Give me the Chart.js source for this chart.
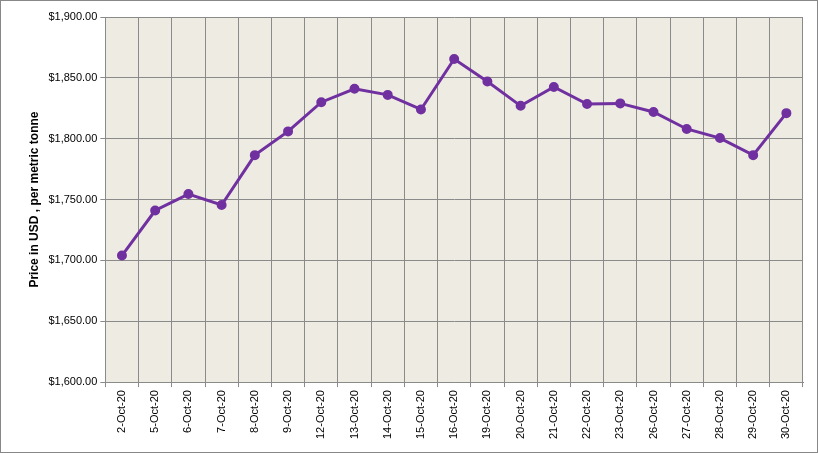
<!DOCTYPE html>
<html><head><script src="https://cdn.jsdelivr.net/npm/chart.js"></script>
<style>html,body{margin:0;padding:0;background:#fff}#w{width:816px;height:451px;border:1px solid #888;position:relative}</style>
</head><body><div id="w"><canvas id="c"></canvas></div>
<script>
const categories=["2-Oct-20","5-Oct-20","6-Oct-20","7-Oct-20","8-Oct-20","9-Oct-20","12-Oct-20","13-Oct-20","14-Oct-20","15-Oct-20","16-Oct-20","19-Oct-20","20-Oct-20","21-Oct-20","22-Oct-20","23-Oct-20","26-Oct-20","27-Oct-20","28-Oct-20","29-Oct-20","30-Oct-20"];
const prices=[1704,1741,1754.5,1745.5,1786.5,1806,1830,1841,1836,1824,1865.5,1847,1827,1842.5,1828.5,1829,1822,1808,1800.5,1786.5,1821];
const bgPlugin={id:'bg',beforeDraw(ch){const a=ch.chartArea,x=ch.ctx;x.save();x.fillStyle='#EEEBE2';x.fillRect(a.left,a.top,a.right-a.left,a.bottom-a.top);x.restore();}};
new Chart(document.getElementById('c'),{type:'line',data:{labels:categories,datasets:[{data:prices,borderColor:'#7030A0',backgroundColor:'#7030A0',borderWidth:3,pointRadius:3.5,pointHoverRadius:3.5,tension:0}]},
options:{responsive:true,maintainAspectRatio:false,animation:false,layout:{padding:{top:16,right:14,left:22,bottom:10}},
plugins:{legend:{display:false},tooltip:{enabled:false}},
scales:{x:{offset:true,grid:{offset:true,color:'#8a8a8a',drawTicks:true,tickLength:5},border:{color:'#8a8a8a'},ticks:{color:'#000',font:{family:'Liberation Sans',size:11},maxRotation:90,minRotation:90,autoSkip:false}},
y:{min:1600,max:1900,ticks:{stepSize:50,color:'#000',font:{family:'Liberation Sans',size:11},callback:v=>'$'+v.toLocaleString('en-US',{minimumFractionDigits:2})},grid:{color:'#8a8a8a',tickLength:5},border:{color:'#8a8a8a'},
title:{display:true,text:'Price in USD , per metric tonne',color:'#000',font:{family:'Liberation Sans',size:12,weight:'bold'}}}}},plugins:[bgPlugin]});
</script></body></html>
